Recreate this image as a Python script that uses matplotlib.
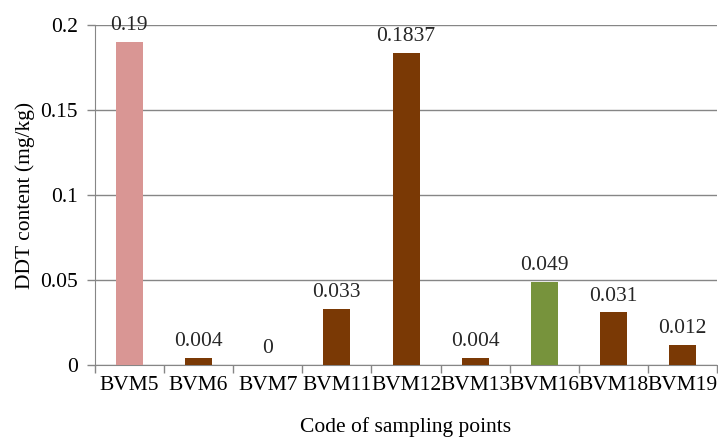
import numpy as np
import matplotlib
matplotlib.use("Agg")
import matplotlib.pyplot as plt
from matplotlib.ticker import FuncFormatter

# data
codes = ["BVM5", "BVM6", "BVM7", "BVM11", "BVM12", "BVM13", "BVM16", "BVM18", "BVM19"]
ddt = [0.19, 0.004, 0.0, 0.033, 0.1837, 0.004, 0.049, 0.031, 0.012]
labels = ["0.19", "0.004", "0", "0.033", "0.1837", "0.004", "0.049", "0.031", "0.012"]
y_ticks = [0, 0.05, 0.1, 0.15, 0.2]

brown = "#7A3905"
colors = ["#D99694", brown, brown, brown, brown, brown, "#77933C", brown, brown]
grey = "#868686"

plt.rcParams["font.family"] = ["Liberation Serif", "DejaVu Serif"]
fs = 15.5

fig = plt.figure(figsize=(7.18, 4.41), dpi=100)
ax = fig.add_axes([0.132, 0.172, 0.867, 0.771])

x = np.arange(len(codes))
ax.bar(x, ddt, width=0.39, color=colors, zorder=3)

for xi, v, lab in zip(x, ddt, labels):
    ax.annotate(lab, (xi, v), xytext=(0, 5), textcoords="offset points",
                ha="center", va="bottom", fontsize=fs, color="#262626", zorder=4)

ax.set_xlim(-0.5, len(codes) - 0.5)
ax.set_ylim(0, 0.2)
ax.set_yticks(y_ticks)
ax.yaxis.set_major_formatter(FuncFormatter(lambda v, p: f"{v:g}"))
ax.yaxis.grid(True, color=grey, linewidth=1, zorder=0)

ax.set_xticks(x)
ax.set_xticklabels(codes)
ax.set_xticks(np.arange(len(codes) + 1) - 0.5, minor=True)
ax.tick_params(axis="x", which="major", length=0, pad=8, labelsize=fs, colors="black")
ax.tick_params(axis="x", which="minor", length=6, color=grey, width=1)
ax.tick_params(axis="y", length=6, color=grey, width=1, labelsize=fs, pad=6)

for s in ["top", "right"]:
    ax.spines[s].set_visible(False)
ax.spines["left"].set_color(grey)
ax.spines["bottom"].set_color(grey)

ax.set_ylabel("DDT content (mg/kg)", fontsize=fs, labelpad=4)
ax.set_xlabel("Code of sampling points", fontsize=fs, labelpad=16)

fig.savefig("out.png", dpi=100)
